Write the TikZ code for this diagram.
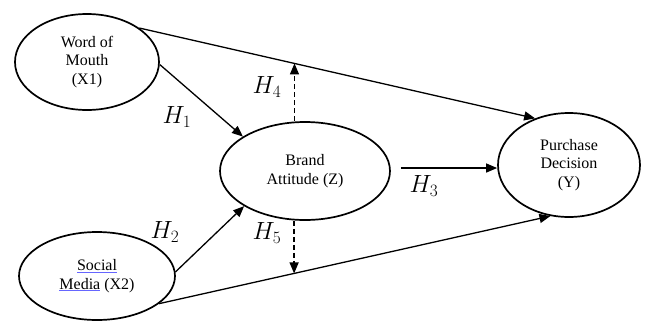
\documentclass[tikz,border=0pt]{standalone}
\usepackage{fontspec}
\setmainfont{Liberation Serif}
\usetikzlibrary{shapes.geometric,arrows.meta}
\newcommand\blueul[1]{{\color{blue!60}\underline{\color{black}#1}}}
\begin{document}
\begin{tikzpicture}[x=1pt,y=-1pt,
  latent/.style={draw,ellipse,line width=1.7pt,inner sep=0pt,align=center,
    font=\fontsize{16}{18.5}\selectfont},
  arr/.style={line width=1.3pt,-{Triangle[length=11pt,width=9pt]}},
  dasharr/.style={arr,dashed,dash pattern=on 5pt off 3pt},
  hlab/.style={font=\fontsize{24}{24}\selectfont,inner sep=0pt}]
\useasboundingbox (0,0) rectangle (646,322);
\node[latent,minimum width=144pt,minimum height=96pt] (x1) at (87,62) {Word of\\Mouth\\(X1)};
\node[latent,minimum width=156pt,minimum height=88pt] (x2) at (97,276) {\blueul{Social}\\\blueul{Media} (X2)};
\node[latent,minimum width=170pt,minimum height=98pt] (z) at (305,171) {Brand\\Attitude (Z)};
\node[latent,minimum width=142pt,minimum height=104pt] (y) at (569,165) {Purchase\\Decision\\(Y)};
\draw[arr] (x1.33) -- coordinate[pos=0.392] (h4c) (y.126);
\draw[arr] (x2.-24) -- coordinate[pos=0.345] (h5c) (y.250);
\draw[arr] (x1.-2) -- (z.151);
\draw[arr] (x2.3) -- (z.210);
\draw[arr,shorten <=10pt] ([yshift=3pt]z.east) -- ([yshift=3pt]z.east -| y.west);
\draw[dasharr] (z.north -| h4c) -- (h4c);
\draw[dasharr] (z.south -| h5c) -- (h5c);
\node[hlab] (l1) at (177,117) {$H_1$};
\node[hlab] (l4) at (267,87) {$H_4$};
\node[hlab] (l2) at (165,232) {$H_2$};
\node[hlab] (l5) at (267,233) {$H_5$};
\node[hlab] (l3) at (424,186) {$H_3$};
\end{tikzpicture}
\end{document}
